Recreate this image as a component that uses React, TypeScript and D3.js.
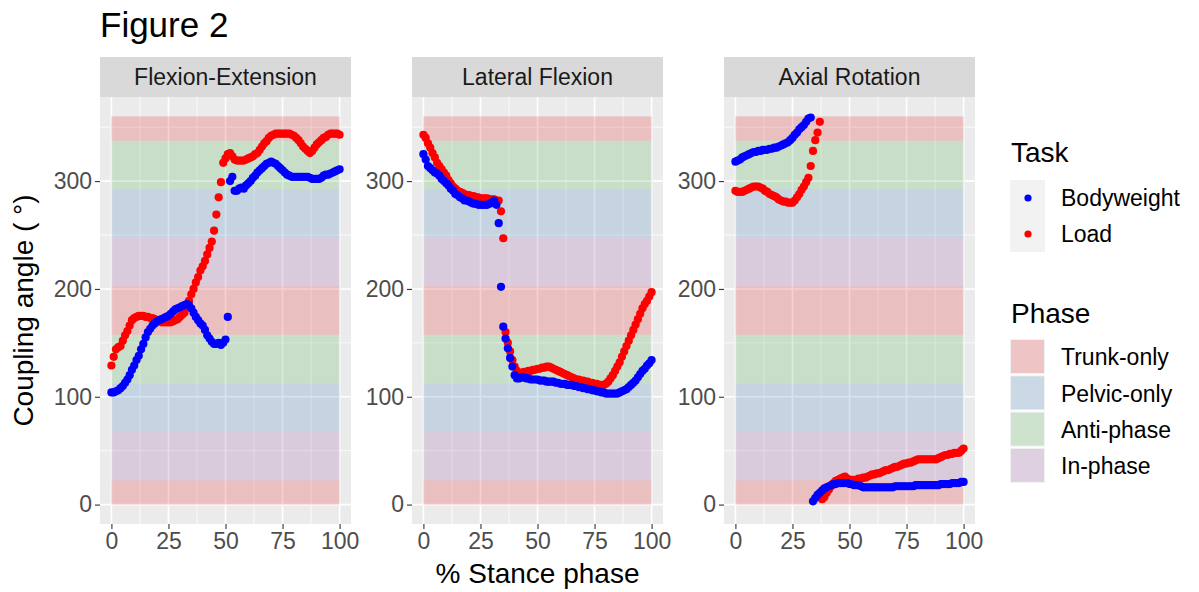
import React, { useEffect, useRef } from 'react';
import * as d3 from 'd3';

// % stance phase (x) for every series
const stance = d3.range(0, 101);

const facets = ['Flexion-Extension', 'Lateral Flexion', 'Axial Rotation'];

// coupling angles, one value per % stance
const feBodyweight = [
  104, 104, 105, 106, 108, 110, 113, 116, 120, 125, 129, 134, 138, 144, 149, 155, 160, 163, 166, 168,
  170, 171, 172, 173, 174, 175, 177, 179, 181, 182, 183, 184, 185, 186, 185, 182, 178, 174, 171, 168,
  166, 162, 157, 154, 151, 149, 149, 150, 148, 150, 153, 174, 300, 304, 291, 291, 293, 294, 293, 296,
  298, 300, 303, 305, 308, 310, 312, 314, 316, 317, 318, 317, 316, 314, 312, 310, 308, 306, 305, 304,
  304, 304, 304, 304, 304, 304, 304, 303, 302, 302, 302, 302, 303, 305, 306, 306, 307, 308, 309, 310,
  311,
];
const feLoad = [
  129, 137, 144, 146, 147, 152, 157, 161, 166, 171, 173, 174, 175, 175, 175, 174, 174, 173, 173, 172,
  171, 170, 169, 169, 169, 169, 169, 170, 171, 172, 174, 176, 178, 183, 189, 195, 200, 206, 211, 217,
  221, 226, 232, 238, 244, 254, 269, 285, 299, 317, 321, 325, 326, 323, 320, 319, 319, 319, 319, 320,
  321, 322, 323, 325, 326, 329, 332, 335, 337, 340, 342, 343, 344, 344, 344, 344, 344, 344, 344, 343,
  342, 340, 338, 335, 332, 330, 328, 326, 328, 331, 334, 336, 338, 340, 341, 343, 344, 344, 344, 344,
  343,
];
const lfBodyweight = [
  325, 320, 314, 312, 310, 308, 307, 305, 302, 300, 298, 296, 293, 291, 288, 287, 285, 284, 282, 282,
  281, 280, 279, 279, 278, 278, 278, 278, 278, 279, 280, 282, 278, 261, 202, 165, 154, 145, 136, 128,
  120, 117, 117, 118, 118, 117, 117, 116, 116, 116, 116, 115, 115, 115, 114, 114, 114, 114, 113, 113,
  112, 112, 112, 111, 111, 111, 110, 110, 109, 109, 108, 108, 107, 107, 106, 106, 105, 105, 104, 104,
  103, 103, 103, 103, 103, 103, 104, 105, 106, 107, 109, 111, 113, 115, 118, 121, 124, 126, 129, 131,
  134,
];
const lfLoad = [
  343, 340, 335, 331, 326, 322, 317, 314, 311, 308, 305, 301, 298, 295, 293, 291, 290, 289, 288, 287,
  287, 286, 286, 285, 285, 284, 284, 284, 284, 283, 283, 283, 282, 282, 272, 247, 160, 150, 142, 134,
  128, 124, 122, 122, 123, 123, 124, 124, 125, 125, 126, 126, 127, 127, 128, 128, 127, 126, 125, 124,
  123, 122, 121, 120, 119, 118, 117, 116, 116, 115, 115, 114, 114, 113, 113, 112, 112, 111, 111, 111,
  112, 114, 117, 120, 124, 128, 132, 137, 142, 147, 152, 157, 162, 167, 172, 177, 182, 186, 189, 193,
  197,
];
const arBodyweight = [
  318, 319, 320, 322, 323, 324, 325, 326, 327, 327, 328, 328, 329, 329, 329, 330, 330, 331, 331, 332,
  333, 334, 335, 336, 338, 340, 343, 345, 348, 350, 352, 355, 358, 359, 3, 6, 9, 11, 13, 15,
  16, 17, 18, 19, 19, 20, 20, 20, 20, 20, 19, 19, 18, 18, 18, 17, 16, 16, 16, 16,
  16, 16, 16, 16, 16, 16, 16, 16, 16, 16, 17, 17, 17, 17, 17, 17, 17, 17, 17, 18,
  18, 18, 18, 18, 18, 18, 18, 18, 18, 18, 19, 19, 19, 19, 19, 20, 20, 20, 20, 21,
  21,
];
const arLoad = [
  291, 290, 290, 290, 291, 292, 293, 294, 295, 295, 295, 294, 293, 291, 290, 288, 287, 286, 285, 283,
  282, 281, 281, 280, 280, 280, 282, 285, 288, 292, 295, 299, 303, 314, 328, 338, 345, 355, 5, 7,
  11, 14, 17, 20, 22, 23, 24, 25, 26, 24, 23, 23, 23, 23, 24, 24, 25, 25, 26, 27,
  28, 28, 29, 29, 30, 31, 32, 32, 33, 34, 35, 35, 36, 37, 38, 38, 39, 39, 40, 41,
  42, 42, 42, 42, 42, 42, 42, 42, 42, 43, 44, 45, 46, 46, 47, 47, 48, 48, 48, 50,
  52,
];

const bodyweight = [feBodyweight, lfBodyweight, arBodyweight];
const load = [feLoad, lfLoad, arLoad];

const tasks = ['Bodyweight', 'Load'];
const taskColors = ['#0000ff', '#ff0000'];

// coupling-angle phase bins
const phaseNames = ['Trunk-only', 'Pelvic-only', 'Anti-phase', 'In-phase'];
const phaseColors = ['#e41a1c', '#377eb8', '#4daf4a', '#984ea3'];
const bandStart = [0, 22.5, 67.5, 112.5, 157.5, 202.5, 247.5, 292.5, 337.5];
const bandEnd = [22.5, 67.5, 112.5, 157.5, 202.5, 247.5, 292.5, 337.5, 360];
const bandPhase = ['Trunk-only', 'In-phase', 'Pelvic-only', 'Anti-phase', 'Trunk-only', 'In-phase', 'Pelvic-only', 'Anti-phase', 'Trunk-only'];

const xTicks = [0, 25, 50, 75, 100];
const xMinor = [12.5, 37.5, 62.5, 87.5];
const yTicks = [0, 100, 200, 300];
const yMinor = [50, 150, 250, 350];

const App = () => {
  const svgRef = useRef<SVGSVGElement>(null);

  useEffect(() => {
    const width = 1199;
    const height = 592;
    const font = 'Liberation Sans, Arial, Helvetica, sans-serif';
    const panelTop = 97;
    const panelBottom = 524;
    const panelW = 251;
    const panelLefts = [100, 412, 724];
    const stripTop = 57;

    const svg = d3.select(svgRef.current)
      .attr('width', width)
      .attr('height', height)
      .attr('font-family', font);
    svg.selectAll('*').remove();

    svg.append('rect').attr('width', width).attr('height', height).attr('fill', '#ffffff');

    const y = d3.scaleLinear().domain([-18, 378]).range([panelBottom, panelTop]);
    const phaseColor = d3.scaleOrdinal<string, string>().domain(phaseNames).range(phaseColors);

    facets.forEach((name, i) => {
      const left = panelLefts[i];
      const x = d3.scaleLinear().domain([-5, 105]).range([left, left + panelW]);
      const g = svg.append('g');

      // strip
      g.append('rect')
        .attr('x', left).attr('y', stripTop)
        .attr('width', panelW).attr('height', panelTop - stripTop)
        .attr('fill', '#d9d9d9');
      g.append('text')
        .attr('x', left + panelW / 2).attr('y', (stripTop + panelTop) / 2)
        .attr('dy', '0.36em')
        .attr('text-anchor', 'middle')
        .attr('font-size', 23)
        .attr('fill', '#1a1a1a')
        .text(name);

      // panel background + grid
      g.append('rect')
        .attr('x', left).attr('y', panelTop)
        .attr('width', panelW).attr('height', panelBottom - panelTop)
        .attr('fill', '#ebebeb');
      g.selectAll('.ymin').data(yMinor).join('line')
        .attr('x1', left).attr('x2', left + panelW)
        .attr('y1', d => y(d)).attr('y2', d => y(d))
        .attr('stroke', '#ffffff').attr('stroke-width', 0.8);
      g.selectAll('.xmin').data(xMinor).join('line')
        .attr('y1', panelTop).attr('y2', panelBottom)
        .attr('x1', d => x(d)).attr('x2', d => x(d))
        .attr('stroke', '#ffffff').attr('stroke-width', 0.8);
      g.selectAll('.ymaj').data(yTicks).join('line')
        .attr('x1', left).attr('x2', left + panelW)
        .attr('y1', d => y(d)).attr('y2', d => y(d))
        .attr('stroke', '#ffffff').attr('stroke-width', 1.6);
      g.selectAll('.xmaj').data(xTicks).join('line')
        .attr('y1', panelTop).attr('y2', panelBottom)
        .attr('x1', d => x(d)).attr('x2', d => x(d))
        .attr('stroke', '#ffffff').attr('stroke-width', 1.6);

      // phase bands
      g.selectAll('.band').data(bandStart).join('rect')
        .attr('x', x(0))
        .attr('width', x(100) - x(0))
        .attr('y', (d, j) => y(bandEnd[j]))
        .attr('height', (d, j) => y(d) - y(bandEnd[j]))
        .attr('fill', (d, j) => phaseColor(bandPhase[j]))
        .attr('fill-opacity', 0.21);

      // points: Load underneath, Bodyweight on top
      [load[i], bodyweight[i]].forEach((series, k) => {
        g.append('g').selectAll('circle').data(stance).join('circle')
          .attr('cx', d => x(d))
          .attr('cy', d => y(series[d]))
          .attr('r', 4.1)
          .attr('fill', k === 0 ? taskColors[1] : taskColors[0]);
      });

      // axes
      const yAxis = g.append('g')
        .attr('transform', `translate(${left},0)`)
        .call(d3.axisLeft(y).tickValues(yTicks).tickSize(5).tickPadding(3));
      const xAxis = g.append('g')
        .attr('transform', `translate(0,${panelBottom})`)
        .call(d3.axisBottom(x).tickValues(xTicks).tickSize(5).tickPadding(4));
      [yAxis, xAxis].forEach(ax => {
        ax.select('.domain').remove();
        ax.attr('font-size', 23).attr('font-family', font);
        ax.selectAll('line').attr('stroke', '#333333').attr('stroke-width', 1.1);
        ax.selectAll('text').attr('fill', '#4d4d4d');
      });
    });

    // titles
    svg.append('text')
      .attr('x', 100).attr('y', 37)
      .attr('font-size', 35)
      .attr('fill', '#000000')
      .text('Figure 2');
    svg.append('text')
      .attr('x', (panelLefts[0] + panelLefts[2] + panelW) / 2).attr('y', 583)
      .attr('text-anchor', 'middle')
      .attr('font-size', 28)
      .attr('fill', '#000000')
      .text('% Stance phase');
    svg.append('text')
      .attr('transform', `translate(33,${(panelTop + panelBottom) / 2}) rotate(-90)`)
      .attr('text-anchor', 'middle')
      .attr('font-size', 28)
      .attr('fill', '#000000')
      .text('Coupling angle ( °)');

    // legend: Task
    const lx = 1010;
    svg.append('text').attr('x', lx + 1).attr('y', 162).attr('font-size', 28).text('Task');
    tasks.forEach((t, j) => {
      const ky = 180 + j * 36;
      svg.append('rect').attr('x', lx).attr('y', ky).attr('width', 35).attr('height', 36).attr('fill', '#f2f2f2');
      svg.append('circle').attr('cx', lx + 18).attr('cy', ky + 18).attr('r', 3.6).attr('fill', taskColors[j]);
      svg.append('text').attr('x', lx + 51).attr('y', ky + 18).attr('dy', '0.36em').attr('font-size', 23).text(t);
    });

    // legend: Phase
    svg.append('text').attr('x', lx + 1).attr('y', 323).attr('font-size', 28).text('Phase');
    phaseNames.forEach((p, j) => {
      const ky = 339 + j * 36.3;
      svg.append('rect').attr('x', lx).attr('y', ky).attr('width', 35).attr('height', 35).attr('fill', '#f2f2f2');
      svg.append('rect').attr('x', lx + 1).attr('y', ky + 1).attr('width', 33).attr('height', 33)
        .attr('fill', phaseColor(p)).attr('fill-opacity', 0.21);
      svg.append('text').attr('x', lx + 51).attr('y', ky + 18).attr('dy', '0.36em').attr('font-size', 23).text(p);
    });
  }, []);

  return (
    <svg ref={svgRef} style={{ position: 'absolute', left: 0, top: 0, display: 'block' }}></svg>
  );
};

export default App;
